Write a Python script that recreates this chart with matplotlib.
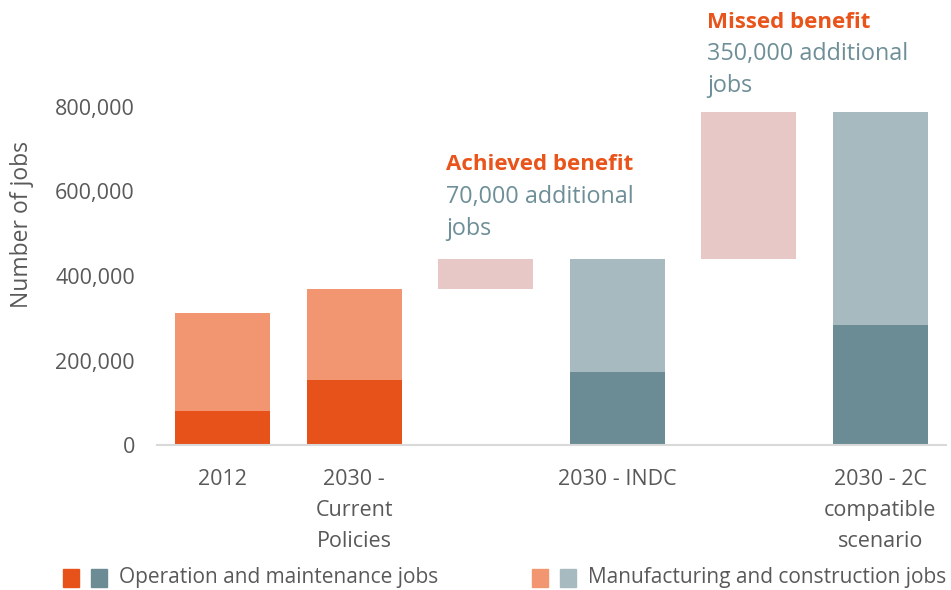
import matplotlib.pyplot as plt
from matplotlib.patches import Rectangle
from matplotlib.ticker import FuncFormatter

plt.rcParams['font.family'] = ['Open Sans', 'DejaVu Sans']

categories = ['2012', '2030 -\nCurrent\nPolicies', '', '2030 - INDC', '', '2030 - 2C\ncompatible\nscenario']
om_jobs = [80000, 154000, 0, 173000, 0, 284000]
mc_jobs = [232000, 215000, 0, 267000, 0, 504000]
gap_bottom = [0, 0, 369000, 0, 440000, 0]
gap_height = [0, 0, 71000, 0, 348000, 0]
is_2030_scen = [False, False, False, True, False, True]

orange_dark = '#E6521A'
orange_light = '#F29671'
teal_dark = '#6B8C95'
teal_light = '#A7BAC0'
pink = '#E8C8C6'
grey = '#595959'

W, H = 951, 590
fig = plt.figure(figsize=(W / 100, H / 100), dpi=100)
ax = fig.add_axes([157 / W, (H - 445) / H, (946 - 157) / W, (445 - 107) / H])

x = list(range(len(categories)))
c_dark = [teal_dark if s else orange_dark for s in is_2030_scen]
c_light = [teal_light if s else orange_light for s in is_2030_scen]

ax.bar(x, om_jobs, width=0.72, color=c_dark)
ax.bar(x, mc_jobs, bottom=om_jobs, width=0.72, color=c_light)
ax.bar(x, gap_height, bottom=gap_bottom, width=0.72, color=pink)

ax.set_xlim(-0.5, 5.5)
ax.set_ylim(0, 800000)
ax.set_yticks([0, 200000, 400000, 600000, 800000])
ax.yaxis.set_major_formatter(FuncFormatter(lambda v, p: f'{int(v):,}'))
ax.set_xticks([0, 1, 3, 5])
ax.set_xticklabels([categories[i] for i in [0, 1, 3, 5]], linespacing=1.64)
ax.tick_params(axis='both', length=0, labelsize=15.5, colors=grey)
ax.tick_params(axis='y', pad=16)
ax.tick_params(axis='x', pad=17)
for s in ['top', 'right', 'left']:
    ax.spines[s].set_visible(False)
ax.spines['bottom'].set_color('#D9D9D9')
ax.spines['bottom'].set_linewidth(1.5)

fig.text(22 / W, 1 - 225 / H, 'Number of jobs', rotation=90, ha='center', va='center',
         fontsize=16.5, color=grey)

# annotations above the floating bars
def note(px, py, title, lines):
    fig.text(px / W, 1 - py / H, title, fontsize=16, fontweight='bold', color='#E8541A',
             ha='left', va='center')
    for i, t in enumerate(lines):
        fig.text(px / W, 1 - (py + 32 * (i + 1)) / H, t, fontsize=16.8, color='#6E8F98',
                 ha='left', va='center')

note(446, 165, 'Achieved benefit', ['70,000 additional', 'jobs'])
note(707, 22, 'Missed benefit', ['350,000 additional', 'jobs'])

# legend drawn by hand
def legend_item(px, ca, cb, label):
    for i, c in enumerate([ca, cb]):
        fig.patches.append(Rectangle(((px + 28 * i) / W, 1 - 587 / H), 16 / W, 18 / H,
                                     transform=fig.transFigure, color=c))
    fig.text((px + 56) / W, 1 - 578 / H, label, fontsize=15, color=grey, va='center')

legend_item(63, orange_dark, teal_dark, 'Operation and maintenance jobs')
legend_item(532, orange_light, teal_light, 'Manufacturing and construction jobs')

fig.savefig('out.png', dpi=100)
